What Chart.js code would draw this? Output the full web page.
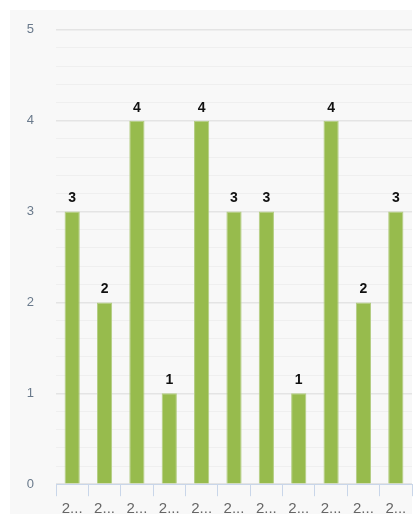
<!DOCTYPE html>
<html>
<head>
<meta charset="utf-8">
<script src="https://cdn.jsdelivr.net/npm/chart.js@4/dist/chart.umd.min.js"></script>
<style>
  html, body { margin: 0; padding: 0; background: #fff; }
  #wrap { width: 417px; height: 514px; }
</style>
</head>
<body>
<div id="wrap"><canvas id="chart" width="417" height="514"></canvas></div>
<script>
// chart data
const categories = ["2...", "2...", "2...", "2...", "2...", "2...", "2...", "2...", "2...", "2...", "2..."];
const counts = [3, 2, 4, 1, 4, 3, 3, 1, 4, 2, 3];
const yMax = 5;

const isWhole = (v) => Math.abs(v - Math.round(v)) < 1e-6;

// gray panel behind the plot
const panelBg = {
    id: "panelBg",
    beforeDraw: (chart) => {
        const c = chart.ctx;
        c.save();
        c.fillStyle = "#f8f8f8";
        c.fillRect(10, 10, 402, chart.height - 10);
        c.restore();
    },
};

// value labels over each bar
const barValues = {
    id: "barValues",
    afterDatasetsDraw: (chart) => {
        const c = chart.ctx;
        const meta = chart.getDatasetMeta(0);
        c.save();
        c.font = "bold 14px 'Liberation Sans', Arial, sans-serif";
        c.fillStyle = "#111";
        c.textAlign = "center";
        c.textBaseline = "bottom";
        meta.data.forEach((bar, i) => {
            c.fillText(counts[i], bar.x, bar.y - 6);
        });
        c.restore();
    },
};

const ctx = document.getElementById("chart");
const chart = new Chart(ctx, {
    type: "bar",
    data: {
        labels: categories,
        datasets: [
            {
                data: counts,
                backgroundColor: "#97bb4d",
                borderColor: "#b3cd82",
                borderWidth: 1,
                barPercentage: 0.47,
                categoryPercentage: 1,
            },
        ],
    },
    options: {
        responsive: false,
        animation: false,
        layout: { padding: { left: 10, top: 26, right: 5, bottom: 0 } },
        plugins: { legend: { display: false }, tooltip: { enabled: false } },
        scales: {
            x: {
                afterFit: (s) => { s.height = 29; },
                grid: {
                    offset: true,
                    drawOnChartArea: false,
                    drawTicks: true,
                    tickLength: 12,
                    color: "#c9d6e9",
                },
                border: { color: "#c9d6e9" },
                ticks: {
                    color: "#666",
                    padding: 4,
                    maxRotation: 0,
                    autoSkip: false,
                    font: { family: "'Liberation Sans', Arial, sans-serif", size: 15 },
                },
            },
            y: {
                min: 0,
                max: yMax,
                afterFit: (s) => { s.width = 46; },
                border: { display: false },
                grid: {
                    drawTicks: false,
                    color: (c) => (isWhole(c.tick.value) ? "#e4e4e4" : "#efefef"),
                    lineWidth: (c) => (isWhole(c.tick.value) ? 1.5 : 1),
                },
                ticks: {
                    stepSize: 0.2,
                    autoSkip: false,
                    padding: 22,
                    color: "#6a7a8c",
                    font: { family: "'Liberation Sans', Arial, sans-serif", size: 13 },
                    callback: (v) => (isWhole(v) ? Math.round(v) : ""),
                },
            },
        },
    },
    plugins: [panelBg, barValues],
});
</script>
</body>
</html>
